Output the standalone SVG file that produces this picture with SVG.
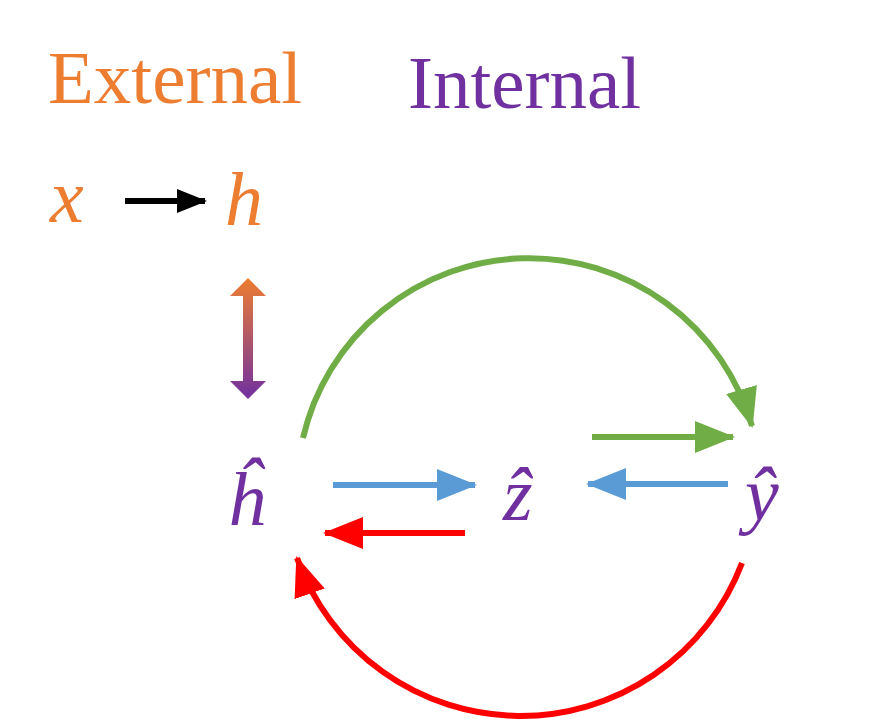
<svg xmlns="http://www.w3.org/2000/svg" width="871" height="725" viewBox="0 0 871 725">
<style>
.t{font-family:"Liberation Serif","DejaVu Serif",serif;font-size:75px}
.m{font-family:"Liberation Serif","DejaVu Serif",serif;font-style:italic;font-size:76px}
.o{fill:#ED7D31}.p{fill:#7030A0}
.c{fill:none;stroke-width:6}
</style>
<defs>
<linearGradient id="g" x1="0" y1="0" x2="0" y2="1"><stop offset="0" stop-color="#ED7D31"/><stop offset="1" stop-color="#7030A0"/></linearGradient>
<marker id="ak" markerUnits="userSpaceOnUse" markerWidth="30" markerHeight="24" refX="28" refY="12" orient="auto"><path d="M0,0L30,12L0,24z" fill="#000"/></marker>
<marker id="ab" markerUnits="userSpaceOnUse" markerWidth="40" markerHeight="32" refX="38" refY="16" orient="auto"><path d="M0,0L40,16L0,32z" fill="#5B9BD5"/></marker>
<marker id="ar" markerUnits="userSpaceOnUse" markerWidth="40" markerHeight="32" refX="38" refY="16" orient="auto"><path d="M0,0L40,16L0,32z" fill="#FF0000"/></marker>
<marker id="ag" markerUnits="userSpaceOnUse" markerWidth="40" markerHeight="32" refX="38" refY="16" orient="auto"><path d="M0,0L40,16L0,32z" fill="#70AD47"/></marker>
</defs>
<text class="t o" x="48" y="103">External</text>
<text class="t p" x="408" y="108">Internal</text>
<g id="x"><text class="m o" x="50" y="222">x</text></g>
<g id="h"><text class="m o" x="225" y="225">h</text></g>
<g id="hhat"><text class="m p" x="227" y="525">ĥ</text></g>
<g id="zhat"><text class="m p" x="503" y="520">ẑ</text></g>
<g id="yhat"><text class="m p" x="745" y="520">ŷ</text></g>
<g id="connectors">
<path class="c" stroke="#000" d="M125,201H205" marker-end="url(#ak)"/>
<path fill="url(#g)" d="M248,278L266,296H253V381H266L248,399L230,381H243V296H230z"/>
<path class="c" stroke="#5B9BD5" d="M333,485H475" marker-end="url(#ab)"/>
<path class="c" stroke="#5B9BD5" d="M728,484H588" marker-end="url(#ab)"/>
<path class="c" stroke="#FF0000" d="M465,533H325" marker-end="url(#ar)"/>
<path class="c" stroke="#70AD47" d="M592,437H733" marker-end="url(#ag)"/>
<path class="c" stroke="#70AD47" d="M303,438A232,232 0 0 1 752,426" marker-end="url(#ag)"/>
<path class="c" stroke="#FF0000" d="M742,563A237,237 0 0 1 297,558" marker-end="url(#ar)"/>
</g>
</svg>
